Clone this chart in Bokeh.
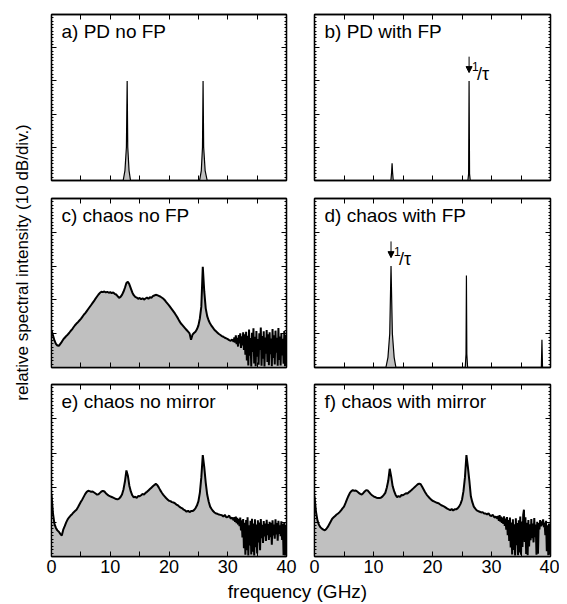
from bokeh.plotting import figure
from bokeh.layouts import row, column
from bokeh.models import Range1d, LinearAxis, FixedTicker, Label, Arrow, NormalHead
from bokeh.embed import file_html
from bokeh.resources import INLINE

FONT = "Liberation Sans"
GRAY = "#c0c0c0"

# ---------------- axes ----------------
freq_ticks = [0, 10, 20, 30, 40]
freq_minor = [5, 15, 25, 35]
db_ticks = [0, 10, 20, 30, 40, 50]
db_minor = list(range(0, 51))

# ---------------- panel a: PD no FP ----------------
a_freq = [0, 12.2, 12.5, 12.75, 12.88, 12.98, 13.2, 13.45, 25.2, 25.5, 25.7, 25.8, 25.9, 26.15, 26.5, 40]
a_db = [0, 0, 3, 10, 30, 10, 3, 0, 0, 3, 10, 30, 10, 3, 0, 0]

# ---------------- panel b: PD with FP ----------------
b_freq = [0, 12.95, 13.07, 13.15, 13.23, 13.35, 26.0, 26.12, 26.2, 26.28, 26.4, 40]
b_db = [0, 0, 2.5, 5.2, 2.5, 0, 0, 2, 30, 2, 0, 0]
b_marker_freq = 26.2

# ---------------- panel d: chaos with FP ----------------
d_freq = [0, 12.1, 12.45, 12.75, 12.97, 13.2, 13.5, 13.8, 25.55, 25.68, 25.75, 25.82, 25.95,
          38.45, 38.55, 38.65, 40]
d_db = [0, 0, 3, 10, 30, 10, 3, 0, 0, 4, 27.2, 4, 0, 0, 8.2, 0, 0]
d_marker_freq = 12.97

# ---------------- chaotic spectra ----------------
# sampled every 0.25 GHz from 0 to 31 GHz, then every 0.125 GHz up to 40 GHz (noisy tail)
chaos_freq = [i * 0.25 for i in range(125)] + [31 + i * 0.125 for i in range(1, 73)]

c_db = [11, 9.5, 8, 7, 6.5, 6.4, 7, 7.6,
        8.3, 8.8, 9.3, 9.7, 10.2, 10.8, 11.3, 11.9,
        12.5, 13, 13.4, 13.9, 14.4, 15, 15.6, 16.1,
        16.7, 17.3, 17.9, 18.5, 19.1, 19.7, 20.4, 21,
        21.6, 22.1, 22.4, 22.3, 22.5, 22.2, 22.4, 22.1,
        22.3, 22, 22.2, 21.8, 21.6, 21.1, 20.6, 20.9,
        21.5, 22.4, 23.6, 25, 25.4, 24.6, 23.4, 22.2,
        21.4, 20.9, 20.7, 20.3, 20.6, 20.2, 20.5, 20.1,
        20.4, 20.7, 20.3, 20.8, 20.6, 21.1, 21.3, 21.5,
        21.4, 21.2, 21, 20.7, 20.4, 20, 19.4, 18.9,
        18.4, 17.8, 17.2, 16.6, 16, 15.3, 14.6, 13.8,
        13.1, 12.6, 12.1, 11.6, 11.1, 10.6, 10.1, 8.2,
        9.7, 10.2, 10.6, 11.3, 12.4, 14.5, 18, 29.8,
        22.5, 17.5, 15.2, 13.9, 13, 12.3, 11.7, 11.1,
        10.7, 10.3, 9.9, 9.6, 9.3, 9.1, 8.8, 8.6,
        8.4, 8.1, 7.9, 8.3, 7.6,
        # 31.125 .. 40 GHz
        8.9, 7.4, 9.5, 6.9, 8.8, 6.2, 9.6, 7.1,
        10.1, 5.8, 9.2, 6.5, 10.4, 5.2, 9.8, 3.8,
        10.6, 2.1, 9.4, 0.6, 11.2, 3.5, 8.7, 0.3,
        10.3, 4.6, 11.6, 1.2, 9.1, 0.4, 10.8, 3.2,
        8.4, 0.8, 10.1, 5.2, 11.8, 0.5, 9.3, 2.6,
        10.7, 0.3, 8.9, 4.1, 11.1, 1.6, 9.8, 0.7,
        10.4, 3.9, 8.6, 0.4, 11.4, 2.8, 9.5, 0.9,
        10.9, 4.4, 8.8, 0.5, 11.7, 2.2, 9.2, 0.6,
        10.2, 3.6, 8.5, 1.1, 10.8, 0.4, 9.6, 5]

e_db = [18, 12.5, 9.5, 8.3, 7.6, 7.2, 6.6, 6.1,
        7.8, 8.8, 9.9, 10.8, 11.4, 11.9, 12.3, 12.8,
        13.2, 13.6, 14.3, 15.1, 15.9, 16.6, 17.4, 18.2,
        18.8, 19.1, 19, 18.8, 18.9, 18.6, 18.3, 18,
        18.1, 18.5, 18.9, 19.1, 18.9, 18.4, 18, 17.7,
        17.5, 17.3, 17.1, 16.9, 16.7, 16.6, 16.8, 17.3,
        18, 19.5, 21.8, 25, 23.5, 20.6, 18.9, 17.8,
        17.2, 17.4, 17, 17.6, 17.5, 17.8, 18.2, 18,
        18.5, 18.8, 19.2, 19.6, 20, 20.4, 20.8, 21.1,
        20.8, 20.1, 19.3, 18.6, 18, 17.5, 17, 16.6,
        16.2, 16.1, 15.8, 15.7, 15.5, 15.1, 14.9, 14.5,
        14.2, 14, 13.6, 13.4, 13, 13.3, 12.9, 13.2,
        13.2, 13.5, 14, 14.8, 16, 18.5, 23, 29.5,
        26, 21.5, 18, 16, 14.5, 13.8, 13.2, 12.8,
        12.5, 12.4, 12.2, 12.1, 12, 11.6, 12.1, 11.4,
        11.5, 11.9, 11, 11.3, 10.5,
        # 31.125 .. 40 GHz
        11.4, 10.1, 11.6, 9.7, 11.2, 9.3, 10.9, 8.8,
        11.3, 7.6, 10.5, 5.5, 10.9, 2.4, 9.8, 0.5,
        10.6, 1.8, 11.4, 0.3, 9.1, 3.2, 10.4, 0.6,
        11, 1.4, 9.6, 0.3, 10.8, 2.7, 9.3, 0.9,
        10.5, 4.1, 9.9, 1.8, 10.9, 5.3, 9.2, 3.9,
        10.3, 5.8, 9.6, 4.5, 10.7, 6.2, 9.4, 4.8,
        10.1, 5.6, 9.8, 3.4, 10.5, 6.1, 9.3, 5.2,
        10.8, 6.4, 9.7, 4.6, 10.4, 6.6, 9.1, 5.9,
        10.2, 4.8, 9.5, 0.4, 9.9, 0.3, 8.9, 0.3]

f_db = [17.5, 13, 10.5, 9.2, 8.5, 8.1, 7.8, 7.6,
        8, 8.6, 9.4, 10.2, 11, 11.4, 11.8, 12.2,
        12.5, 12.9, 13.4, 14, 14.5, 15.5, 16.6, 17.6,
        18.5, 19, 19.3, 19.1, 19.2, 18.9, 18.5, 18.2,
        18, 18.4, 18.9, 19.3, 19.2, 18.7, 18.2, 17.8,
        17.5, 17.3, 17.1, 17, 17, 17.1, 17.4, 17.9,
        18.5, 20, 22, 25.5, 23.2, 20.4, 19, 17.9,
        17.2, 17.6, 17.3, 17.9, 17.8, 18.1, 18.4, 18.3,
        18.7, 19, 19.4, 19.8, 20.2, 20.6, 21, 21.2,
        21, 20.3, 19.5, 18.7, 18, 17.5, 17, 16.6,
        16.2, 16, 15.8, 15.6, 15.5, 15.2, 14.9, 14.7,
        14.5, 14.2, 13.9, 13.7, 13.5, 13.8, 13.4, 13.7,
        13.7, 14, 14.5, 15.3, 16.5, 19, 23, 29.5,
        26, 22, 17.5, 15.8, 14.5, 13.9, 13.4, 13.2,
        13, 12.8, 12.9, 12.5, 12.5, 12.2, 12.6, 11.9,
        11.8, 12.1, 11.3, 11.6, 11,
        # 31.125 .. 40 GHz
        11.8, 10.4, 12, 10.1, 11.6, 9.8, 11.3, 9.5,
        11.7, 8.9, 11, 7.8, 11.5, 6.2, 10.6, 4.5,
        11.3, 2.6, 9.9, 0.6, 10.8, 1.9, 9.4, 0.3,
        11.1, 3.3, 9.7, 0.4, 10.5, 1.2, 11.6, 0.5,
        10.2, 2.8, 12.1, 13.6, 4.2, 11.4, 0.7, 9.8,
        0.4, 10.6, 2.9, 9.4, 4.7, 10.9, 5.3, 9.6,
        4.1, 11.2, 5.6, 9.3, 0.5, 10.1, 0.8, 9.7,
        7.9, 10.6, 8.8, 10.2, 9.1, 10.8, 8.5, 9.9,
        6.2, 10.4, 1.5, 9.1, 0.4, 9.6, 0.5, 8.5]

titles = ["a) PD no FP", "b) PD with FP", "c) chaos no FP",
          "d) chaos with FP", "e) chaos no mirror", "f) chaos with mirror"]
x_label_text = "frequency (GHz)"
y_label_text = "relative spectral intensity (10 dB/div.)"


def style_axis(ax, minor_len, labels):
    ax.axis_line_color = "black"
    ax.axis_line_width = 1.3
    ax.major_tick_in = 5
    ax.major_tick_out = 0
    ax.minor_tick_in = minor_len
    ax.minor_tick_out = 0
    ax.major_tick_line_color = "black"
    ax.minor_tick_line_color = "black"
    ax.major_tick_line_width = 1
    ax.minor_tick_line_width = 1
    if labels:
        ax.major_label_text_font = FONT
        ax.major_label_text_font_size = "18px"
        ax.major_label_text_color = "black"
        ax.major_label_standoff = 3
    else:
        ax.major_label_text_color = None
        ax.major_label_text_font_size = "0px"
        ax.major_label_standoff = 0


def blank_grids(p):
    for g in p.grid:
        g.visible = False


def make_panel(freq, db, title, lw, width, height, borders, xlabels=False):
    left, right, top, bottom = borders
    p = figure(width=width, height=height, x_range=Range1d(0, 40), y_range=Range1d(0, 50),
               output_backend="svg", toolbar_location=None, title=None,
               x_axis_location=None, y_axis_location=None,
               min_border_left=left, min_border_right=right,
               min_border_top=top, min_border_bottom=bottom)
    blank_grids(p)
    p.outline_line_color = "black"
    p.outline_line_width = 1.3
    p.background_fill_color = "white"
    p.border_fill_color = "white"
    p.varea(x=freq, y1=0, y2=db, fill_color=GRAY)
    p.line(freq, db, line_color="black", line_width=lw)
    for loc in ["left", "right"]:
        ax = LinearAxis(ticker=FixedTicker(ticks=db_ticks, minor_ticks=db_minor))
        style_axis(ax, 2, False)
        p.add_layout(ax, loc)
    for loc in ["above", "below"]:
        ax = LinearAxis(ticker=FixedTicker(ticks=freq_ticks, minor_ticks=freq_minor))
        style_axis(ax, 5, xlabels and loc == "below")
        p.add_layout(ax, loc)
    p.add_layout(Label(x=0, y=50, x_offset=10, y_offset=-6, text=title, text_font=FONT,
                       text_font_size="19px", text_baseline="top", text_color="black"))
    return p


def add_marker(p, fx):
    p.add_layout(Arrow(x_start=fx, y_start=37.3, x_end=fx, y_end=32.5,
                       end=NormalHead(size=6, fill_color="black", line_color="black", line_width=1),
                       line_color="black", line_width=1))
    p.add_layout(Label(x=fx, y=34.4, x_offset=3, text="1", text_font=FONT,
                       text_font_size="12px", text_baseline="alphabetic", text_color="black"))
    p.add_layout(Label(x=fx, y=32.0, x_offset=8, text="/τ", text_font=FONT,
                       text_font_size="18px", text_baseline="alphabetic", text_color="black"))


YW = 44
LW, RW = 256, 259
LB, RB = (7, 14), (14, 9)
H1, H2, H3 = 189, 186, 205
XH = 24

pa = make_panel(a_freq, a_db, titles[0], 1.2, LW, H1, (*LB, 14, 9))
pb = make_panel(b_freq, b_db, titles[1], 1.2, RW, H1, (*RB, 14, 9))
add_marker(pb, b_marker_freq)
pc = make_panel(chaos_freq, c_db, titles[2], 2.0, LW, H2, (*LB, 9, 8))
pd_ = make_panel(d_freq, d_db, titles[3], 1.2, RW, H2, (*RB, 9, 8))
add_marker(pd_, d_marker_freq)
pe = make_panel(chaos_freq, e_db, titles[4], 2.0, LW, H3, (*LB, 9, 24), xlabels=True)
pf = make_panel(chaos_freq, f_db, titles[5], 2.0, RW, H3, (*RB, 9, 24), xlabels=True)

xlab = figure(width=LW + RW, height=XH, x_range=Range1d(0, LW + RW), y_range=Range1d(0, XH),
              output_backend="svg", toolbar_location=None, title=None,
              x_axis_location=None, y_axis_location=None, min_border=0)
blank_grids(xlab)
xlab.outline_line_color = None
xlab.add_layout(Label(x=297 - YW, y=3, text=x_label_text, text_font=FONT, text_font_size="19px",
                      text_align="center", text_baseline="bottom", text_color="black"))

TOT = H1 + H2 + H3 + XH
ylab = figure(width=YW, height=TOT, x_range=Range1d(0, YW), y_range=Range1d(0, TOT),
              output_backend="svg", toolbar_location=None, title=None,
              x_axis_location=None, y_axis_location=None, min_border=0)
blank_grids(ylab)
ylab.outline_line_color = None
ylab.add_layout(Label(x=22, y=TOT - 262, text=y_label_text, text_font=FONT, text_font_size="17px",
                      angle=1.5707963, text_align="center", text_baseline="middle",
                      text_color="black"))

layout = row(ylab, column(row(pa, pb), row(pc, pd_), row(pe, pf), xlab))

open("out.html", "w").write(file_html(layout, INLINE))
